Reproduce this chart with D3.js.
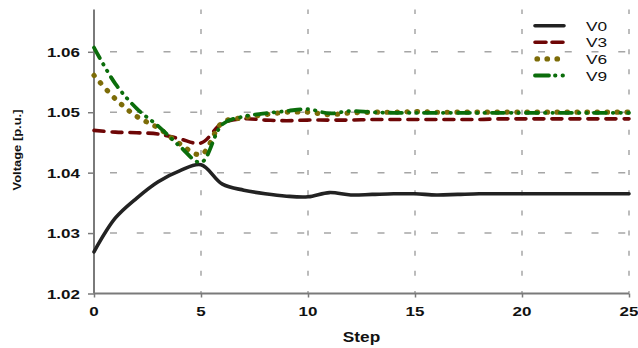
<!DOCTYPE html>
<html>
<head>
<meta charset="utf-8">
<script src="https://cdn.jsdelivr.net/npm/d3@7"></script>
<style>
  html, body { margin: 0; padding: 0; background: #fff; }
  svg { display: block; }
  text { font-family: "Liberation Sans", Arial, sans-serif; }
</style>
</head>
<body>
<svg id="chart" width="638" height="348"></svg>
<script>
// Bus voltages per iteration step
const steps = [0,1,2,3,4,5,6,7,8,9,10,11,12,13,14,15,16,17,18,19,20,21,22,23,24,25];
const V0 = [1.0269,1.0325,1.0358,1.0385,1.0403,1.0413,1.0381,1.0371,1.0365,1.0361,1.0360,1.0367,1.0363,1.0364,1.0365,1.0365,1.0363,1.0364,1.0365,1.0365,1.0365,1.0365,1.0365,1.0365,1.0365,1.0365];
const V3 = [1.0470,1.0467,1.0466,1.0464,1.0456,1.0449,1.0482,1.0489,1.0487,1.0486,1.0487,1.0487,1.0487,1.0488,1.0488,1.0488,1.0488,1.0488,1.0488,1.0489,1.0489,1.0489,1.0489,1.0489,1.0489,1.0489];
const V6 = [1.0561,1.0522,1.0493,1.0474,1.0448,1.0430,1.0483,1.0491,1.0496,1.0500,1.0500,1.0496,1.0499,1.0500,1.0500,1.0501,1.0500,1.0500,1.0500,1.0500,1.0500,1.0500,1.0500,1.0500,1.0500,1.0500];
const V9 = [1.0607,1.0547,1.0506,1.0477,1.0444,1.0417,1.0480,1.0493,1.0498,1.0502,1.0505,1.0498,1.0502,1.0500,1.0499,1.0499,1.0499,1.0499,1.0499,1.0499,1.0499,1.0499,1.0499,1.0499,1.0499,1.0499];

const seriesNames = ["V0", "V3", "V6", "V9"];
const xTicks = [0, 5, 10, 15, 20, 25];
const yTicks = [1.02, 1.03, 1.04, 1.05, 1.06];
const yMax = 1.067;

const series = [
  { name: seriesNames[0], values: V0, color: "#222222", width: 3.6, dash: null, legendDash: null },
  { name: seriesNames[1], values: V3, color: "#6e0606", width: 3.6, dash: "10,8", legendDash: "11,6" },
  { name: seriesNames[2], values: V6, color: "#7d6c08", width: 5.2, dash: "0.5,9.5", legendDash: "0.5,9.5" },
  { name: seriesNames[3], values: V9, color: "#0b6d0b", width: 3.8, dash: "12,7,0.5,7,0.5,7", legendDash: "14,6,0.5,7,0.5,7" }
];

const svg = d3.select("#chart");
const x = d3.scaleLinear().domain([0, 25]).range([94, 629]);
const y = d3.scaleLinear().domain([1.02, yMax]).range([293.5, 9.5]);

const gridColor = "#a6a6a6";
const axisColor = "#7a7a7a";

// dashed gridlines
const grid = svg.append("g");
grid.selectAll("line.hg").data(yTicks.slice(1)).join("line")
  .attr("x1", x(0)).attr("x2", x(25))
  .attr("y1", d => y(d)).attr("y2", d => y(d))
  .attr("stroke", gridColor).attr("stroke-width", 1.5)
  .attr("stroke-dasharray", "7,19.75").attr("stroke-dashoffset", -16);
grid.selectAll("line.vg").data(xTicks.slice(1)).join("line")
  .attr("x1", d => x(d)).attr("x2", d => x(d))
  .attr("y1", y(1.02)).attr("y2", y(yMax))
  .attr("stroke", gridColor).attr("stroke-width", 1.5)
  .attr("stroke-dasharray", "5,15.15").attr("stroke-dashoffset", 2.5);

// axes
const xAxis = d3.axisBottom(x).tickValues(xTicks).tickSize(4).tickFormat("");
const yAxis = d3.axisLeft(y).tickValues(yTicks).tickSize(6).tickFormat("");
const gx = svg.append("g").attr("transform", `translate(0,${y(1.02)})`).call(xAxis);
const gy = svg.append("g").attr("transform", `translate(${x(0)},0)`).call(yAxis);
[gx, gy].forEach(g => {
  g.select(".domain").attr("stroke", axisColor).attr("stroke-width", 2);
  g.selectAll(".tick line").attr("stroke", axisColor).attr("stroke-width", 1.5);
});
gy.select(".domain").attr("d", `M0,${y(1.02)}V${y(yMax)}`);
gx.select(".domain").attr("d", `M${x(0)},0H${x(25)}`);

// tick labels, wide bold face
const sx = 1.26;
svg.append("g").selectAll("g").data(yTicks).join("g")
  .attr("transform", d => `translate(80,${y(d) + 5}) scale(${sx},1)`)
  .append("text")
  .attr("text-anchor", "end").attr("font-weight", "bold").attr("font-size", 13.5)
  .attr("fill", "#111")
  .text(d => d3.format(".2f")(d));
svg.append("g").selectAll("g").data(xTicks).join("g")
  .attr("transform", d => `translate(${x(d)},316) scale(${sx},1)`)
  .append("text")
  .attr("text-anchor", "middle").attr("font-weight", "bold").attr("font-size", 13.5)
  .attr("fill", "#111")
  .text(d => d);

// axis titles
svg.append("g").attr("transform", `translate(${(x(0) + x(25)) / 2},342) scale(1.23,1)`)
  .append("text").attr("text-anchor", "middle").attr("font-weight", "bold")
  .attr("font-size", 14).attr("fill", "#111").text("Step");
svg.append("text")
  .attr("transform", "translate(21,150) rotate(-90)")
  .attr("text-anchor", "middle").attr("font-weight", "bold").attr("font-size", 10.5)
  .attr("textLength", 81).attr("lengthAdjust", "spacingAndGlyphs")
  .attr("fill", "#111").text("Voltage [p.u.]");

// series lines
const line = d3.line()
  .x((d, i) => x(steps[i]))
  .y(d => y(d))
  .curve(d3.curveCatmullRom.alpha(0.5));
svg.append("g").selectAll("path").data(series).join("path")
  .attr("d", d => line(d.values))
  .attr("fill", "none")
  .attr("stroke", d => d.color)
  .attr("stroke-width", d => d.width)
  .attr("stroke-linecap", "round")
  .attr("stroke-linejoin", "round")
  .attr("stroke-dasharray", d => d.dash);

// legend
const legend = svg.append("g").selectAll("g").data(series).join("g")
  .attr("transform", (d, i) => `translate(0,${25.7 + i * 16.6})`);
legend.append("line")
  .attr("x1", d => d.name === "V6" ? 537 : 535)
  .attr("x2", d => d.name === "V6" ? 558 : 564)
  .attr("y1", 0).attr("y2", 0)
  .attr("stroke", d => d.color)
  .attr("stroke-width", d => d.width)
  .attr("stroke-linecap", "round")
  .attr("stroke-dasharray", d => d.legendDash);
legend.append("g").attr("transform", "translate(586,5) scale(1.38,1)")
  .append("text").attr("font-size", 12.5).attr("fill", "#111")
  .text(d => d.name);
</script>
</body>
</html>
